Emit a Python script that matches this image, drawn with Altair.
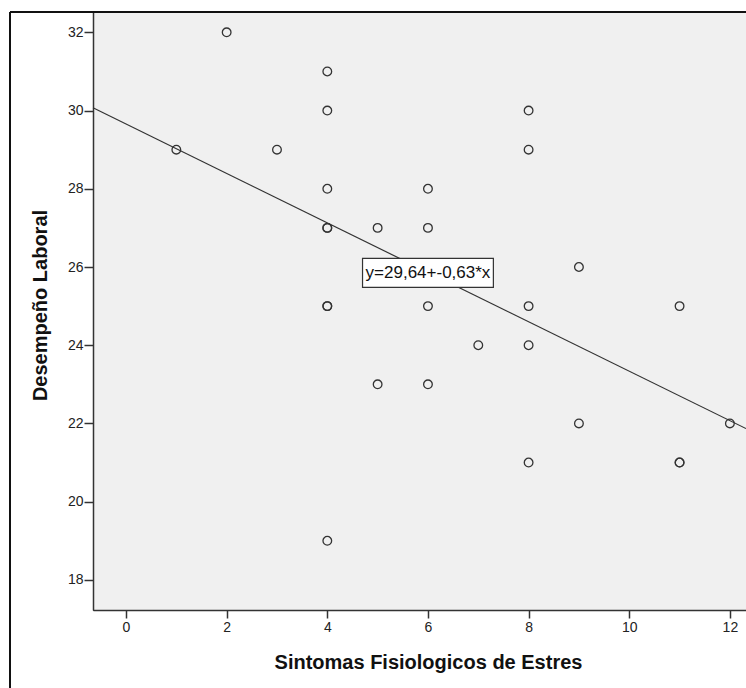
import altair as alt
import pandas as pd

# Data
x_vals = [1, 2, 3, 4, 4, 4, 4, 4, 4, 4, 4, 5, 5, 6, 6, 6, 6, 7, 8, 8, 8, 8, 8, 9, 9, 11, 11, 11, 12]
y_vals = [29, 32, 29, 31, 30, 28, 27, 27, 25, 25, 19, 27, 23, 28, 27, 25, 23, 24, 30, 29, 25, 24, 21, 26, 22, 25, 21, 21, 22]

x_domain = [-0.656, 12.32]
y_domain = [17.23, 32.52]
x_ticks = [0, 2, 4, 6, 8, 10, 12]
y_ticks = [18, 20, 22, 24, 26, 28, 30, 32]

eq_label = ["y=29,64+-0,63*x"]
eq_x = [6.0]
eq_y = [25.85]
box_x1, box_x2 = [4.70], [7.30]
box_y1, box_y2 = [25.48], [26.22]

df = pd.DataFrame({"x": x_vals, "y": y_vals})
lab = pd.DataFrame({"t": eq_label, "x": eq_x, "y": eq_y,
                    "bx1": box_x1, "bx2": box_x2, "by1": box_y1, "by2": box_y2})

FONT = "Liberation Sans"
DARK = "#333333"

xs = alt.Scale(domain=x_domain, nice=False, zero=False)
ys = alt.Scale(domain=y_domain, nice=False, zero=False)

xaxis = alt.Axis(values=x_ticks, title="Sintomas Fisiologicos de Estres", grid=False,
                 tickSize=8, tickColor=DARK, tickWidth=1.5, domainColor=DARK, domainWidth=1.5,
                 labelFont=FONT, labelFontSize=14, labelColor="#222222", labelPadding=2,
                 titleFont=FONT, titleFontSize=20, titleFontWeight="bold", titleColor="#111111",
                 titleX=335, titleY=52, titleBaseline="middle", titleAnchor="start", titleAlign="center")
yaxis = alt.Axis(values=y_ticks, title="Desempeño Laboral", grid=False,
                 tickSize=9, tickColor=DARK, tickWidth=1.5, domainColor=DARK, domainWidth=1.5,
                 labelFont=FONT, labelFontSize=14, labelColor="#222222", labelPadding=1,
                 titleFont=FONT, titleFontSize=20, titleFontWeight="bold", titleColor="#111111",
                 titleX=-53, titleY=293, titleBaseline="middle", titleAngle=270, titleAlign="center")

base = alt.Chart(df)

points = base.mark_point(shape="circle", filled=False, size=75, strokeWidth=1.3, color=DARK, opacity=1).encode(
    x=alt.X("x:Q", scale=xs, axis=xaxis),
    y=alt.Y("y:Q", scale=ys, axis=yaxis),
)

reg = base.transform_regression("x", "y", extent=x_domain).mark_line(color=DARK, strokeWidth=1.2).encode(
    x=alt.X("x:Q", scale=xs), y=alt.Y("y:Q", scale=ys)
)

box = alt.Chart(lab).mark_rect(fill="white", stroke=DARK, strokeWidth=1.2).encode(
    x=alt.X("bx1:Q", scale=xs), x2="bx2:Q", y=alt.Y("by1:Q", scale=ys), y2="by2:Q"
)
txt = alt.Chart(lab).mark_text(font=FONT, fontSize=17, color="#111111", baseline="middle", align="center").encode(
    x=alt.X("x:Q", scale=xs), y=alt.Y("y:Q", scale=ys), text="t:N"
)

# outer frame lines (left and top) of the figure
frame_left = alt.Chart(lab).mark_rule(color="#111111", strokeWidth=2, clip=False).encode(
    x=alt.value(-83), y=alt.value(0), y2=alt.value(690)
)
frame_top = alt.Chart(lab).mark_rule(color="#111111", strokeWidth=2, clip=False).encode(
    x=alt.value(-83), x2=alt.value(660), y=alt.value(0)
)

chart = alt.layer(points, reg, box, txt, frame_left, frame_top).properties(
    width=653, height=598,
    padding={"left": 93, "top": 12, "right": 0, "bottom": 78},
    autosize=alt.AutoSizeParams(type="none"),
    background="white",
).configure_view(fill="#f0f0f0", stroke=DARK, strokeWidth=1)

chart.save("out.html", embed_options={"renderer": "svg", "actions": False})
